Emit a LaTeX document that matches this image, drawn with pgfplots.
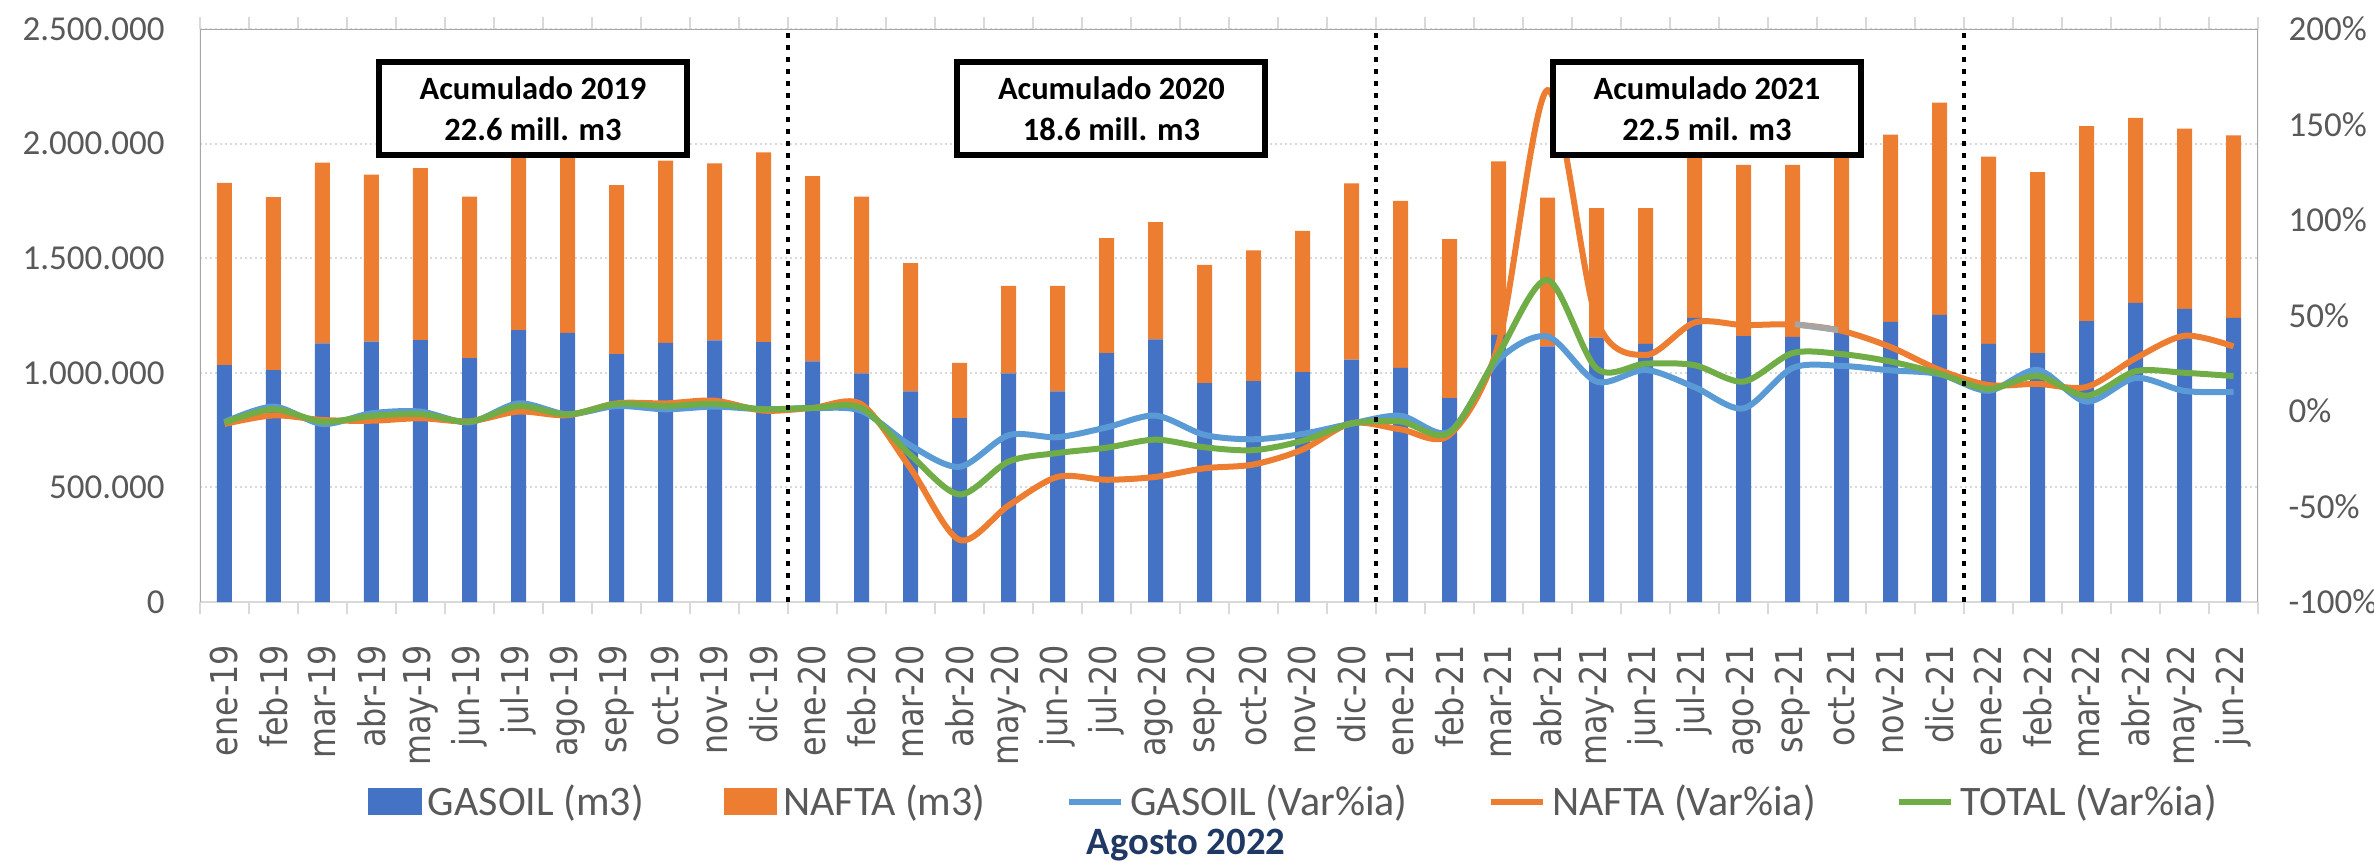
\documentclass[border=0pt]{standalone}
\usepackage{fontspec}
\setmainfont{Carlito}
\newfontfamily\xlabfont[FakeStretch=0.86]{DejaVu Sans}
\usepackage{pgfplots}
\usepackage{pgfplotstable}
\pgfplotsset{compat=1.18}

\definecolor{gasoil}{HTML}{4472C4}
\definecolor{nafta}{HTML}{ED7D31}
\definecolor{vargasoil}{HTML}{5B9BD5}
\definecolor{vartotal}{HTML}{70AD47}
\definecolor{segmento}{HTML}{A5A5A5}
\definecolor{labelgray}{HTML}{595959}
\definecolor{framegray}{HTML}{A6A6A6}
\definecolor{axisgray}{HTML}{D9D9D9}
\definecolor{navy}{HTML}{1F3864}

% Ventas mensuales (m3) y variacion interanual (%)
\pgfplotstableread{
idx gasoil  nafta  vg     vn     vt
0   1034000 795000 -5.8   -6.8   -6.1
1   1012000 755000  2.3   -2.3    0.9
2   1128000 789000 -6.8   -4.7   -5.6
3   1136000 729000 -1.2   -5.1   -2.6
4   1143000 750000 -0.3   -3.8   -1.6
5   1064000 705000 -5.9   -5.4   -5.6
6   1186000 784000  4.0   -0.3    2.6
7   1174000 781000 -1.7   -2.2   -1.8
8   1081000 738000  2.6    4.0    3.7
9   1131000 795000  0.9    4.0    2.6
10  1141000 773000  2.3    5.4    3.7
11  1134000 828000  0.9    0.2    0.9
12  1050000 808000  1.5    1.6    1.6
13  998000  771000  0.0    3.5    1.5
14  919000  560000 -18.0  -30.0  -23.0
15  802000  241000 -29.2  -67.5  -43.7
16  998000  381000 -12.7  -49.5  -26.5
17  919000  460000 -13.7  -34.5  -22.0
18  1086000 502000 -8.6   -36.0  -19.2
19  1146000 511000 -2.4   -34.5  -15.0
20  955000  516000 -12.5  -30.0  -19.0
21  964000  570000 -14.8  -28.0  -20.5
22  1003000 616000 -12.0  -20.2  -15.6
23  1057000 770000 -6.6   -6.4   -6.6
24  1021000 729000 -2.5   -9.6   -5.5
25  890000  693000 -10.8  -12.5  -11.3
26  1165000 757000  26.8   35.2   30.0
27  1115000 649000  39.0  168.0   68.6
28  1153000 566000  15.4   48.0   22.3
29  1126000 593000  21.5   29.3   24.8
30  1240000 735000  12.5   46.3   24.0
31  1160000 747000  1.4    45.0   15.4
32  1157000 750000  22.5   45.3   30.3
33  1190000 810000  23.6   42.0   29.8
34  1222000 817000  21.3   33.5   25.9
35  1253000 926000  19.3   21.5   19.6
36  1126000 817000  10.6   13.6   11.6
37  1086000 790000  21.5   14.2   18.3
38  1226000 850000  4.9    12.6    8.0
39  1305000 807000  17.3   27.6   20.8
40  1279000 786000  10.5   39.4   20.0
41  1240000 796000  10.0   33.8   18.3
}\datos

\pgfplotsset{
  base/.style={
    at={(0,0)}, anchor=south west, scale only axis,
    width=823.2bp, height=229.2bp,
    xmin=-0.5, xmax=41.5,
    major tick length=0pt,
  },
}

\begin{document}
\begin{tikzpicture}
\useasboundingbox (-80bp,-104.4bp) rectangle (869.6bp,240.8bp);

% Barras apiladas: volumen mensual
\begin{axis}[base,
  ymin=0, ymax=2500000,
  scaled y ticks=false,
  ybar stacked, bar width=6bp,
  axis line style={draw=none},
  xtick={0,...,41},
  xticklabels={ene-19,feb-19,mar-19,abr-19,may-19,jun-19,jul-19,ago-19,sep-19,oct-19,nov-19,dic-19,
               ene-20,feb-20,mar-20,abr-20,may-20,jun-20,jul-20,ago-20,sep-20,oct-20,nov-20,dic-20,
               ene-21,feb-21,mar-21,abr-21,may-21,jun-21,jul-21,ago-21,sep-21,oct-21,nov-21,dic-21,
               ene-22,feb-22,mar-22,abr-22,may-22,jun-22},
  minor xtick={-0.5,0.5,...,41.5},
  minor tick length=4.8bp, tick align=outside,
  minor tick style={axisgray, line width=0.8bp},
  xticklabel style={rotate=90, anchor=east, inner sep=0pt,
    font=\xlabfont\fontsize{14.8bp}{14.8bp}\selectfont, text=labelgray},
  xticklabel shift=17bp,
  ytick={0,500000,1000000,1500000,2000000,2500000},
  yticklabels={0,500.000,1.000.000,1.500.000,2.000.000,2.500.000},
  yticklabel style={anchor=east, inner sep=0pt,
    font=\fontsize{14bp}{14bp}\selectfont, text=labelgray},
  yticklabel shift=14bp,
  ymajorgrids,
  grid style={axisgray, line width=0.8bp, dash pattern=on 0.8bp off 1.2bp},
]
\addplot[fill=gasoil, draw=none] table[x=idx, y=gasoil] {\datos};
\addplot[fill=nafta, draw=none] table[x=idx, y=nafta] {\datos};
\draw[framegray, line width=0.9bp] (rel axis cs:0,0) -- (rel axis cs:0,1)
  -- (rel axis cs:1,1) -- (rel axis cs:1,0);
\draw[axisgray, line width=1bp] (rel axis cs:0,0) -- (rel axis cs:1,0);
\end{axis}

% Lineas: variacion interanual
\begin{axis}[base,
  ymin=-100, ymax=200,
  axis x line=none,
  axis y line*=right,
  axis line style={draw=none},
  ytick={-100,-50,0,50,100,150,200},
  yticklabels={-100\%,-50\%,0\%,50\%,100\%,150\%,200\%},
  yticklabel style={anchor=west, inner sep=0pt,
    font=\fontsize{14bp}{14bp}\selectfont, text=labelgray},
  yticklabel shift=12bp,
  legend image code/.code={\draw[#1, line width=2.6bp] (0bp,0bp) -- (21bp,0bp);},
  legend style={at={(0.0816,-0.349)}, anchor=west, draw=none, fill=none,
    legend columns=5, inner sep=0pt,
    font=\fontsize{16.8bp}{16.8bp}\selectfont, text=labelgray,
    nodes={inner sep=0pt},
    /tikz/every odd column/.append style={column sep=2.4bp},
    /tikz/every even column/.append style={column sep=32bp}},
  legend cell align=left,
]
\addlegendimage{legend image code/.code={\fill[gasoil] (0bp,-5.2bp) rectangle (21bp,5.2bp);}}
\addlegendentry{GASOIL (m3)}
\addlegendimage{legend image code/.code={\fill[nafta] (0bp,-5.2bp) rectangle (21bp,5.2bp);}}
\addlegendentry{NAFTA (m3)}
\addplot[vargasoil, line width=2.4bp, smooth, tension=0.5] table[x=idx, y=vg] {\datos};
\addlegendentry{GASOIL (Var\%ia)}
\addplot[nafta, line width=2.4bp, smooth, tension=0.5] table[x=idx, y=vn] {\datos};
\addlegendentry{NAFTA (Var\%ia)}
\addplot[vartotal, line width=2.4bp, smooth, tension=0.5] table[x=idx, y=vt] {\datos};
\addlegendentry{TOTAL (Var\%ia)}
\addplot[segmento, line width=2.4bp, forget plot] coordinates {(32.05,45.5) (32.93,42.4)};

% Separadores anuales
\foreach \xs in {11.5,23.5,35.5} {
  \edef\tmp{\noexpand\draw[black, line width=1.9bp, dash pattern=on 1.9bp off 2.9bp]
    (axis cs:\xs,-100) -- (axis cs:\xs,197.9);}
  \tmp
}

% Acumulados anuales
\tikzset{acum/.style={draw=black, line width=2.4bp, fill=white,
  minimum width=123.2bp, minimum height=37.2bp, align=center, inner sep=0pt,
  font=\bfseries\fontsize{13bp}{16.4bp}\selectfont}}
\node[acum] at (axis cs:6.296,158.4) {Acumulado 2019\\22.6 mill. m3};
\node[acum] at (axis cs:18.10,158.4) {Acumulado 2020\\18.6 mill. m3};
\node[acum] at (axis cs:30.255,158.4) {Acumulado 2021\\22.5 mil. m3};
\end{axis}

\node[font=\bfseries\fontsize{15.5bp}{15.5bp}\selectfont, text=navy] at (394.4bp,-97.2bp) {Agosto 2022};
\end{tikzpicture}
\end{document}
